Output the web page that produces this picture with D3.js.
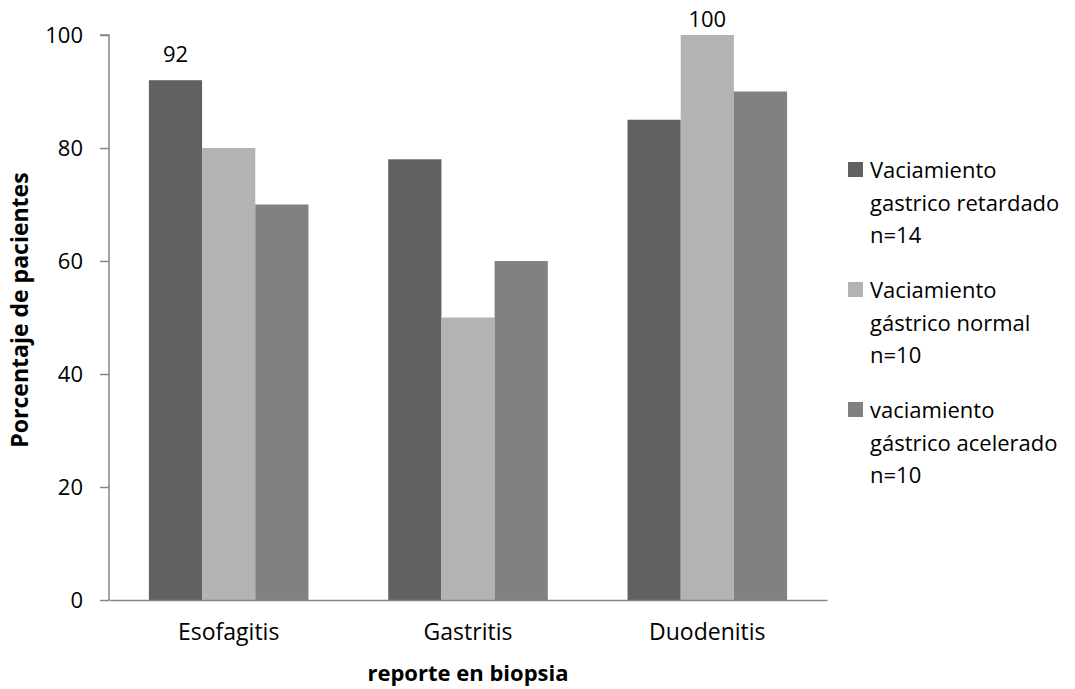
<!DOCTYPE html>
<html><head><meta charset="utf-8">
<script src="https://cdn.jsdelivr.net/npm/d3@7"></script>
<style>body{margin:0;background:#fff;} text{font-family:"Open Sans",sans-serif;fill:#000;}</style>
</head><body>
<svg id="c" width="1075" height="689"></svg>
<script>
const categories = ["Esofagitis", "Gastritis", "Duodenitis"];
const seriesNames = [
  ["Vaciamiento", "gastrico retardado", "n=14"],
  ["Vaciamiento", "gástrico normal", "n=10"],
  ["vaciamiento", "gástrico acelerado", "n=10"]
];
const retardado = [92, 78, 85];
const normal = [80, 50, 100];
const acelerado = [70, 60, 90];
const shownLabels = [[0, 0], [2, 1]]; // [category index, series index]
const yTicks = [0, 20, 40, 60, 80, 100];
const colors = ["#616161", "#b3b3b3", "#818181"];

const series = [retardado, normal, acelerado];
const svg = d3.select("#c");
const m = {l: 109, r: 827, t: 35, b: 600};
const x = d3.scaleBand().domain(categories).range([m.l, m.r]).paddingInner(0.3333).paddingOuter(0.1667);
const xs = d3.scaleBand().domain(d3.range(3)).range([0, x.bandwidth()]);
const y = d3.scaleLinear().domain([0, 100]).range([m.b, m.t]);

// bars
series.forEach((vals, si) => {
  svg.append("g").selectAll("rect").data(vals).join("rect")
    .attr("x", (d, i) => x(categories[i]) + xs(si))
    .attr("width", xs.bandwidth())
    .attr("y", d => y(d))
    .attr("height", d => y(0) - y(d))
    .attr("fill", colors[si]);
});

// y axis
const ya = svg.append("g").attr("transform", `translate(${m.l},0)`)
  .call(d3.axisLeft(y).tickValues(yTicks).tickSize(9).tickPadding(17).tickFormat(d3.format("d")));
ya.select(".domain").attr("stroke", "#868686").attr("stroke-width", 1.5).attr("d", `M-9,${m.t}H0V${m.b}`);
ya.selectAll(".tick line").attr("stroke", "#868686").attr("stroke-width", 1.5);
ya.selectAll(".tick text").attr("font-size", 22).attr("font-family", "Open Sans").attr("fill", "#000");

// x axis
const xa = svg.append("g").attr("transform", `translate(0,${m.b})`)
  .call(d3.axisBottom(x).tickSize(0).tickPadding(24));
xa.select(".domain").attr("stroke", "#868686").attr("stroke-width", 1.5);
xa.selectAll(".tick text").attr("font-size", 23).attr("font-family", "Open Sans").attr("fill", "#000");

// data labels
shownLabels.forEach(([ci, si]) => {
  const v = series[si][ci];
  svg.append("text")
    .attr("x", x(categories[ci]) + xs(si) + xs.bandwidth() / 2)
    .attr("y", Math.max(y(v) - 18, 27))
    .attr("text-anchor", "middle").attr("font-size", 22)
    .text(v);
});

// axis titles
svg.append("text").attr("transform", `translate(28,310) rotate(-90)`)
  .attr("text-anchor", "middle").attr("font-size", 23).attr("font-weight", "bold")
  .text("Porcentaje de pacientes");
svg.append("text").attr("x", (m.l + m.r) / 2).attr("y", 681)
  .attr("text-anchor", "middle").attr("font-size", 22).attr("font-weight", "bold")
  .text("reporte en biopsia");

// legend
seriesNames.forEach((lines, si) => {
  const g = svg.append("g").attr("transform", `translate(848,${178 + si * 120})`);
  g.append("rect").attr("x", 0).attr("y", -16).attr("width", 15).attr("height", 15).attr("fill", colors[si]);
  lines.forEach((t, li) => {
    g.append("text").attr("x", 22).attr("y", li * 32.5).attr("font-size", 22).text(t);
  });
});
</script>
</body></html>
